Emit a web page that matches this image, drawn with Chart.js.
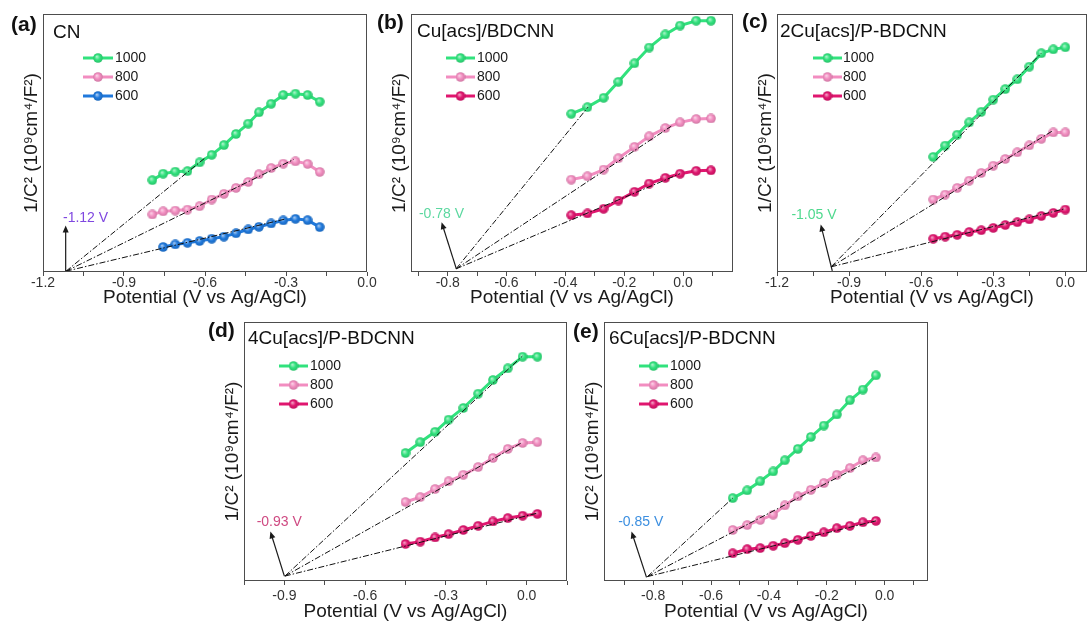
<!DOCTYPE html>
<html>
<head>
<meta charset="utf-8">
<script src="https://cdn.jsdelivr.net/npm/chart.js@4.4.0/dist/chart.umd.min.js"></script>
<style>
  body { margin: 0; background: #fff; width: 1091px; height: 622px; position: relative; overflow: hidden;
         font-family: 'Liberation Sans', Arial, Helvetica, sans-serif; }
  canvas { position: absolute; }
  .tag { position: absolute; font-weight: bold; font-size: 21px; line-height: 24px; color: #111; }
  .name { position: absolute; font-size: 19px; line-height: 22px; color: #111; white-space: nowrap; }
</style>
</head>
<body>
<script>
// Mott-Schottky plots, five samples, three frequencies (Hz) each
const seriesNames = ['1000', '800', '600'];

// (a) CN
const potA = [-0.795, -0.755, -0.71, -0.665, -0.62, -0.575, -0.53, -0.485, -0.44, -0.40, -0.355, -0.31, -0.265, -0.22, -0.175];
const cn1000 = [3.56, 3.81, 3.89, 3.91, 4.25, 4.54, 4.92, 5.35, 5.75, 6.19, 6.52, 6.86, 6.91, 6.86, 6.60];
const cn800 = [2.23, 2.35, 2.38, 2.42, 2.55, 2.81, 3.03, 3.26, 3.49, 3.79, 4.03, 4.20, 4.29, 4.19, 3.88];
const cn600 = [null, 0.97, 1.07, 1.13, 1.20, 1.29, 1.37, 1.50, 1.65, 1.75, 1.88, 2.00, 2.06, 2.01, 1.74];

// (b) Cu[acs]/BDCNN
const potB = [-0.38, -0.325, -0.27, -0.22, -0.165, -0.115, -0.06, -0.01, 0.045, 0.095];
const b1000 = [6.13, 6.39, 6.75, 7.37, 8.09, 8.70, 9.21, 9.55, 9.74, 9.74];
const b800 = [3.58, 3.71, 3.97, 4.41, 4.85, 5.26, 5.58, 5.80, 5.93, 5.95];
const b600 = [2.20, 2.27, 2.45, 2.77, 3.11, 3.43, 3.65, 3.81, 3.92, 3.94];

// (c) 2Cu[acs]/P-BDCNN
const potC = [-0.55, -0.50, -0.45, -0.40, -0.35, -0.30, -0.25, -0.20, -0.15, -0.10, -0.05, 0.0];
const c1000 = [4.46, 4.90, 5.32, 5.80, 6.21, 6.68, 7.09, 7.47, 7.96, 8.48, 8.63, 8.71];
const c800 = [2.81, 3.00, 3.26, 3.54, 3.84, 4.12, 4.38, 4.64, 4.91, 5.16, 5.41, 5.41];
const c600 = [1.29, 1.37, 1.44, 1.55, 1.62, 1.71, 1.82, 1.93, 2.04, 2.17, 2.29, 2.42];

// (d) 4Cu[acs]/P-BDCNN
const potD = [-0.45, -0.395, -0.34, -0.29, -0.235, -0.18, -0.125, -0.07, -0.015, 0.04];
const d1000 = [4.94, 5.36, 5.76, 6.23, 6.68, 7.23, 7.76, 8.21, 8.66, 8.66];
const d800 = [3.05, 3.24, 3.55, 3.85, 4.10, 4.40, 4.75, 5.10, 5.33, 5.36];
const d600 = [1.43, 1.52, 1.68, 1.81, 1.97, 2.13, 2.30, 2.43, 2.52, 2.59];

// (e) 6Cu[acs]/P-BDCNN
const potE = [-0.525, -0.475, -0.43, -0.385, -0.345, -0.30, -0.255, -0.21, -0.165, -0.12, -0.075, -0.03];
const e1000 = [3.20, 3.50, 3.85, 4.23, 4.66, 5.10, 5.56, 6.00, 6.43, 6.98, 7.39, 7.94];
const e800 = [1.97, 2.16, 2.36, 2.56, 2.92, 3.27, 3.52, 3.78, 4.10, 4.36, 4.66, 4.77];
const e600 = [1.07, 1.23, 1.27, 1.36, 1.46, 1.59, 1.74, 1.88, 2.04, 2.13, 2.27, 2.32];

// x-axis ranges and labelled ticks
const rangeA = [-1.2, 0.0], majorA = [-1.2, -0.9, -0.6, -0.3, 0.0];
const rangeB = [-0.925, 0.17], majorB = [-0.8, -0.6, -0.4, -0.2, 0.0];
const rangeC = [-1.2, 0.09], majorC = [-1.2, -0.9, -0.6, -0.3, 0.0];
const rangeD = [-1.05, 0.15], majorD = [-0.9, -0.6, -0.3, 0.0];
const rangeE = [-0.97, 0.15], majorE = [-0.8, -0.6, -0.4, -0.2, 0.0];

// linear fits: common origin on the potential axis, end point per series (1000, 800, 600)
const fitOrigin = [[-1.115, 0.03], [-0.772, 0.12], [-0.975, 0.2], [-0.898, 0.19], [-0.82, 0.17]];
const fitEndA = [[-0.60, 4.42], [-0.272, 4.36], [-0.30, 2.06]];
const fitEndB = [[-0.323, 6.39], [-0.04, 5.65], [-0.01, 3.81]];
const fitEndC = [[-0.10, 8.48], [-0.05, 5.49], [-0.003, 2.45]];
const fitEndD = [[-0.016, 8.68], [-0.016, 5.35], [0.04, 2.62]];
const fitEndE = [[-0.525, 3.2], [-0.03, 4.77], [-0.03, 2.32]];

// flat-band potential notes
const vLabels = ['-1.12 V', '-0.78 V', '-1.05 V', '-0.93 V', '-0.85 V'];
const vLabelAt = [[-1.126, 2.10], [-0.898, 2.23], [-1.140, 2.19], [-1.003, 2.26], [-0.921, 2.26]];
const arrowTail = [[-1.116, 0], [-0.771, 0.13], [-0.970, 0.04], [-0.900, 0.19], [-0.823, 0.14]];
const arrowHead = [[-1.116, 1.80], [-0.821, 1.93], [-1.018, 1.84], [-0.952, 1.91], [-0.875, 1.91]];

const COLORS = {
  green: '#31e27d',
  pink: '#f28dc0',
  blue: '#2079dc',
  magenta: '#e0166f',
  ink: '#1a1a1a',
  frame: '#4d4d4d',
  notes: ['#7f47e0', '#5cd8a0', '#4fd98e', '#cf4a82', '#3c8fe0']
};
const FONT = "'Liberation Sans', Arial, Helvetica, sans-serif";

// axisPad: [tick label padding, x title bottom padding]
const panels = [
  { tag: '(a)', name: 'CN', box: [43, 14, 367, 272], tagPos: [11, 24], namePos: [53, 32], axisPad: [-1, 7],
    pot: potA, vals: [cn1000, cn800, cn600], low: COLORS.blue, range: rangeA, major: majorA, fits: fitEndA, leg: [40, 70, 72] },
  { tag: '(b)', name: 'Cu[acs]/BDCNN', box: [411, 14, 733, 272], tagPos: [377, 22], namePos: [417, 31], axisPad: [-1, 7],
    pot: potB, vals: [b1000, b800, b600], low: COLORS.magenta, range: rangeB, major: majorB, fits: fitEndB, leg: [35, 64, 66] },
  { tag: '(c)', name: '2Cu[acs]/P-BDCNN', box: [777, 14, 1087, 272], tagPos: [742, 21], namePos: [780, 31], axisPad: [-1, 7],
    pot: potC, vals: [c1000, c800, c600], low: COLORS.magenta, range: rangeC, major: majorC, fits: fitEndC, leg: [36, 65, 66] },
  { tag: '(d)', name: '4Cu[acs]/P-BDCNN', box: [244, 322, 567, 581], tagPos: [208, 330], namePos: [248, 338], axisPad: [3, 2],
    pot: potD, vals: [d1000, d800, d600], low: COLORS.magenta, range: rangeD, major: majorD, fits: fitEndD, leg: [35, 64, 66] },
  { tag: '(e)', name: '6Cu[acs]/P-BDCNN', box: [604, 322, 928, 581], tagPos: [573, 331], namePos: [609, 338], axisPad: [3, 2],
    pot: potE, vals: [e1000, e800, e600], low: COLORS.magenta, range: rangeE, major: majorE, fits: fitEndE, leg: [35, 64, 66] }
];

function mix(hex, other, t) {
  const a = [1, 3, 5].map(i => parseInt(hex.slice(i, i + 2), 16));
  const b = [1, 3, 5].map(i => parseInt(other.slice(i, i + 2), 16));
  return 'rgb(' + a.map((v, k) => Math.round(v + (b[k] - v) * t)).join(',') + ')';
}

// glossy ball marker
function sphere(color) {
  const c = document.createElement('canvas');
  c.width = 10; c.height = 10;
  const g = c.getContext('2d');
  const grd = g.createRadialGradient(3.8, 3.6, 0.3, 5, 5, 5);
  grd.addColorStop(0, mix(color, '#ffffff', 0.6));
  grd.addColorStop(0.5, color);
  grd.addColorStop(1, mix(color, '#000000', 0.15));
  g.fillStyle = grd;
  g.beginPath(); g.arc(5, 5, 4.8, 0, Math.PI * 2); g.fill();
  return c;
}

// major ticks plus the in-between minor ones
function tickList(major, range) {
  const step = (major[1] - major[0]) / 2;
  const out = [];
  for (let v = major[0] - step; v <= range[1] + 1e-6; v += step) {
    if (v >= range[0] - 1e-6) out.push(Math.round(v * 1000) / 1000);
  }
  return out;
}

const framePlugin = {
  id: 'frame',
  afterDraw(chart) {
    const { ctx, chartArea: a } = chart;
    ctx.save();
    ctx.strokeStyle = COLORS.frame;
    ctx.lineWidth = 1;
    ctx.strokeRect(a.left + 0.5, a.top + 0.5, a.right - a.left - 1, a.bottom - a.top - 1);
    ctx.restore();
  }
};

const notesPlugin = {
  id: 'notes',
  afterDatasetsDraw(chart, args, opts) {
    const { ctx, chartArea: a, scales: { x, y } } = chart;
    const i = opts.index;
    ctx.save();
    // arrow to the intercept
    const x0 = x.getPixelForValue(arrowTail[i][0]), y0 = y.getPixelForValue(arrowTail[i][1]);
    const x1 = x.getPixelForValue(arrowHead[i][0]), y1 = y.getPixelForValue(arrowHead[i][1]);
    const ang = Math.atan2(y1 - y0, x1 - x0);
    ctx.strokeStyle = COLORS.ink; ctx.fillStyle = COLORS.ink; ctx.lineWidth = 1.2;
    ctx.beginPath(); ctx.moveTo(x0, y0); ctx.lineTo(x1 - 5 * Math.cos(ang), y1 - 5 * Math.sin(ang)); ctx.stroke();
    ctx.beginPath();
    ctx.moveTo(x1, y1);
    ctx.lineTo(x1 - 7 * Math.cos(ang) + 3 * Math.sin(ang), y1 - 7 * Math.sin(ang) - 3 * Math.cos(ang));
    ctx.lineTo(x1 - 7 * Math.cos(ang) - 3 * Math.sin(ang), y1 - 7 * Math.sin(ang) + 3 * Math.cos(ang));
    ctx.closePath(); ctx.fill();
    // value text
    ctx.font = '14px ' + FONT;
    ctx.fillStyle = COLORS.notes[i];
    ctx.textBaseline = 'middle';
    ctx.textAlign = 'left';
    ctx.fillText(vLabels[i], x.getPixelForValue(vLabelAt[i][0]), y.getPixelForValue(vLabelAt[i][1]));
    // legend: line + ball + label
    const [lx0, lx1, tx] = opts.leg;
    [44, 63, 82].forEach((dy, k) => {
      const ly = a.top + dy;
      ctx.strokeStyle = opts.colors[k]; ctx.lineWidth = 3;
      ctx.beginPath(); ctx.moveTo(a.left + lx0, ly); ctx.lineTo(a.left + lx1, ly); ctx.stroke();
      ctx.drawImage(opts.balls[k], a.left + (lx0 + lx1) / 2 - 5, ly - 5);
      ctx.fillStyle = COLORS.ink;
      ctx.font = '14px ' + FONT;
      ctx.fillText(seriesNames[k], a.left + tx, ly + 0.5);
    });
    ctx.restore();
  }
};

panels.forEach((p, i) => {
  const [L, T, R, B] = p.box;
  const yW = 44, xH = 44, padT = 6, padR = 14;
  const cv = document.createElement('canvas');
  cv.width = R - L + yW + padR;
  cv.height = B - T + padT + xH;
  cv.style.left = (L - yW) + 'px';
  cv.style.top = (T - padT) + 'px';
  document.body.appendChild(cv);

  const tag = document.createElement('div');
  tag.className = 'tag'; tag.textContent = p.tag;
  tag.style.left = p.tagPos[0] + 'px'; tag.style.top = (p.tagPos[1] - 12) + 'px';
  document.body.appendChild(tag);
  const nm = document.createElement('div');
  nm.className = 'name'; nm.textContent = p.name;
  nm.style.left = p.namePos[0] + 'px'; nm.style.top = (p.namePos[1] - 11) + 'px';
  document.body.appendChild(nm);

  const colors = [COLORS.green, COLORS.pink, p.low];
  const balls = colors.map(sphere);
  const ticks = tickList(p.major, p.range);
  const isMajor = v => p.major.some(m => Math.abs(m - v) < 1e-6);

  const fitSets = p.fits.map(e => ({
    data: [{ x: fitOrigin[i][0], y: fitOrigin[i][1] }, { x: e[0], y: e[1] }],
    borderColor: '#111', borderWidth: 1, borderDash: [6, 2, 1.5, 2],
    pointRadius: 0, fill: false, tension: 0
  }));
  const lineSets = p.vals.map((arr, k) => ({
    label: seriesNames[k],
    data: p.pot.map((x, j) => ({ x, y: arr[j] })).filter(pt => pt.y !== null),
    borderColor: colors[k], borderWidth: 3,
    pointStyle: balls[k], pointRadius: 4.5,
    fill: false, tension: 0
  }));

  new Chart(cv.getContext('2d'), {
    type: 'line',
    data: { datasets: [...fitSets, ...lineSets] },
    options: {
      responsive: false,
      animation: false,
      events: [],
      layout: { autoPadding: false, padding: { left: 0, top: padT, right: padR, bottom: 0 } },
      plugins: {
        legend: { display: false },
        tooltip: { enabled: false },
        notes: { index: i, leg: p.leg, colors, balls }
      },
      scales: {
        x: {
          type: 'linear', min: p.range[0], max: p.range[1],
          afterFit: s => { s.height = xH; s.paddingLeft = 0; s.paddingRight = 0; },
          afterBuildTicks: s => { s.ticks = ticks.map(v => ({ value: v })); },
          grid: { display: true, drawOnChartArea: false, drawTicks: true, tickLength: 4, color: COLORS.frame },
          border: { display: false },
          ticks: {
            autoSkip: false, maxRotation: 0, padding: p.axisPad[0], color: '#333',
            font: { family: FONT, size: 14 },
            callback: v => isMajor(v) ? (Math.round(v * 100) / 100).toFixed(1) : ''
          },
          title: { display: true, text: 'Potential (V vs Ag/AgCl)', color: COLORS.ink,
                   font: { family: FONT, size: 19 }, padding: { top: 0, bottom: p.axisPad[1] } }
        },
        y: {
          min: 0, max: 10,
          afterFit: s => { s.width = yW; },
          ticks: { display: false },
          grid: { display: false },
          border: { display: false },
          title: { display: true, text: '1/C² (10⁹cm⁴/F²)', color: COLORS.ink,
                   font: { family: FONT, size: 19 }, padding: { top: 21, bottom: 0 } }
        }
      }
    },
    plugins: [framePlugin, notesPlugin]
  });
});
</script>
</body>
</html>
